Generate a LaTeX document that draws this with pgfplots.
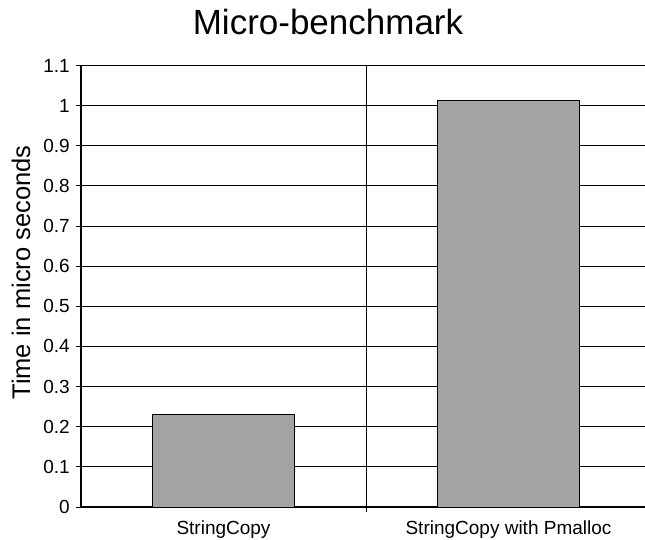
\documentclass[border=0pt]{standalone}
\usepackage{fontspec}
\setmainfont{Liberation Sans}
\usepackage{pgfplots}
\pgfplotsset{compat=1.18}
\usetikzlibrary{calc}
\definecolor{barfill}{HTML}{A3A3A3}
\begin{document}
\begin{tikzpicture}
\begin{axis}[
    scale only axis,
    width=570pt, height=441.5pt,
    xmin=-0.5, xmax=1.5,
    ymin=0, ymax=1.1,
    axis x line*=bottom,
    axis y line*=left,
    axis line style={line width=1.6pt},
    ytick={0,0.1,0.2,0.3,0.4,0.5,0.6,0.7,0.8,0.9,1,1.1},
    xtick={0,1},
    xticklabels={StringCopy, StringCopy with Pmalloc},
    ymajorgrids,
    grid style={black, line width=0.9pt},
    ytick align=outside,
    ytick style={black, line width=0.9pt},
    major tick length=5pt,
    xtick style={draw=none},
    /pgf/number format/assume math mode=true,
    tick label style={font=\fontsize{19}{19}\selectfont},
    yticklabel style={anchor=east, inner sep=0pt, xshift=-6pt},
    xticklabel style={anchor=base, inner sep=0pt, yshift=-22pt},
    ybar,
    bar width=0.5,
    clip=false,
]
\addplot[fill=barfill, draw=black, line width=0.8pt] coordinates {(0,0.23) (1,1.013)};
\coordinate (O) at (rel axis cs:0,0);
\draw[black, line width=0.9pt] (axis cs:0.5,1.1) -- ([yshift=-5pt]axis cs:0.5,0);
\end{axis}
\node[anchor=base, font=\fontsize{35}{35}\selectfont] at ($(O)+(247pt,472pt)$) {Micro-benchmark};
\node[rotate=90, anchor=center, font=\fontsize{25.5}{25.5}\selectfont] at ($(O)+(-60pt,234.5pt)$) {Time in micro seconds};
\pgfresetboundingbox
\path[use as bounding box] ($(O)+(-81pt,-32pt)$) rectangle ($(O)+(564pt,507pt)$);
\end{tikzpicture}
\end{document}
